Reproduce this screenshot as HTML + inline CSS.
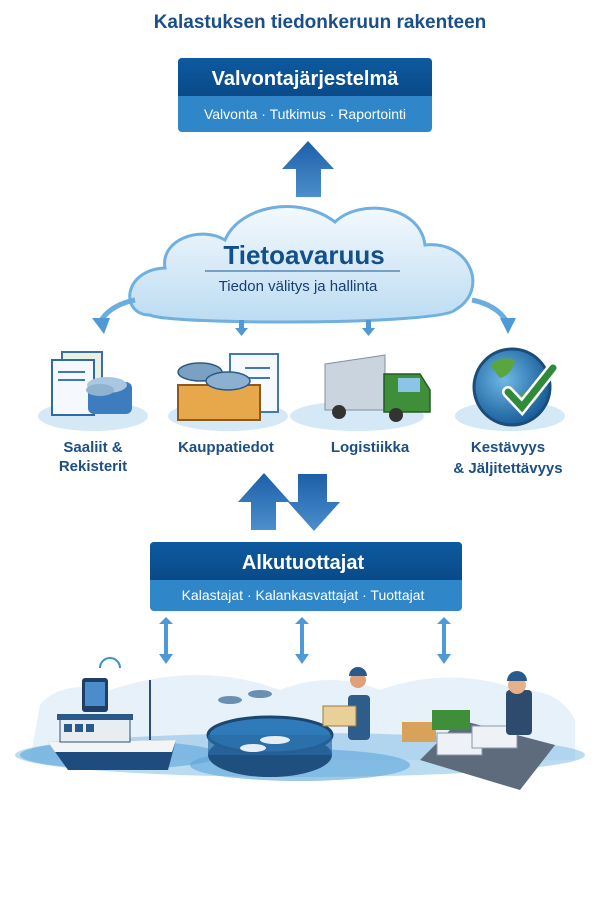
<!DOCTYPE html>
<html><head><meta charset="utf-8"><style>
body{margin:0;background:#fff;width:610px;height:915px;overflow:hidden;font-family:"Liberation Sans",sans-serif}
</style></head><body>
<svg width="610" height="915" viewBox="0 0 610 915" xmlns="http://www.w3.org/2000/svg">
<defs>
<linearGradient id="hd" x1="0" y1="0" x2="0" y2="1"><stop offset="0" stop-color="#0d5aa0"/><stop offset="1" stop-color="#0a4a88"/></linearGradient>
<linearGradient id="ar" x1="0" y1="0" x2="0" y2="1"><stop offset="0" stop-color="#1d5fa8"/><stop offset="1" stop-color="#4b8fcc"/></linearGradient>
<linearGradient id="cl" x1="0" y1="0" x2="0" y2="1"><stop offset="0" stop-color="#f4f9fe"/><stop offset="1" stop-color="#bcdcf2"/></linearGradient>
<radialGradient id="gl" cx="0.4" cy="0.4" r="0.6"><stop offset="0" stop-color="#6fb8e6"/><stop offset="1" stop-color="#1a5f9a"/></radialGradient>
</defs>
<text x="320" y="28" text-anchor="middle" font-size="19" font-weight="bold" fill="#1a4f8a">Kalastuksen tiedonkeruun rakenteen</text>
<!-- top box -->
<rect x="178" y="58" width="254" height="74" rx="4" fill="#2f86c8"/>
<path d="M182 58h246a4 4 0 0 1 4 4v34H178V62a4 4 0 0 1 4-4z" fill="url(#hd)"/>
<text x="305" y="85" text-anchor="middle" font-size="20" font-weight="bold" fill="#fff">Valvontajärjestelmä</text>
<text x="305" y="119" text-anchor="middle" font-size="14" fill="#fff">Valvonta · Tutkimus · Raportointi</text>
<!-- up arrow -->
<path d="M308 141L334 169H321V197H296V169H282Z" fill="url(#ar)"/>
<!-- cloud -->
<path d="M150 315C120 315 122 270 165 268C160 240 200 225 225 240C240 205 300 195 335 222C360 198 420 205 425 245C470 240 490 290 455 310C440 325 170 325 150 315Z" fill="url(#cl)" stroke="#6fb0e0" stroke-width="3"/>
<text x="304" y="264" text-anchor="middle" font-size="26" font-weight="bold" fill="#12508c">Tietoavaruus</text>
<line x1="205" y1="271" x2="400" y2="271" stroke="#1a5590" stroke-width="1"/>
<text x="298" y="291" text-anchor="middle" font-size="15" fill="#163f70">Tiedon välitys ja hallinta</text>
<!-- side curved arrows -->
<path d="M135 300Q110 305 100 322" fill="none" stroke="#6aaee0" stroke-width="5"/>
<path d="M92 318L104 334L110 318Z" fill="#4f9ad6"/>
<path d="M472 300Q497 305 507 322" fill="none" stroke="#6aaee0" stroke-width="5"/>
<path d="M500 318L508 334L516 318Z" fill="#4f9ad6"/>
<path d="M239 320h5v8h4l-6.5 8-6.5-8h4z" fill="#4f9ad6"/>
<path d="M366 320h5v8h4l-6.5 8-6.5-8h4z" fill="#4f9ad6"/>
<!-- icon platforms -->
<ellipse cx="93" cy="416" rx="55" ry="15" fill="#d5e8f6"/>
<ellipse cx="228" cy="416" rx="60" ry="15" fill="#d5e8f6"/>
<ellipse cx="357" cy="416" rx="67" ry="15" fill="#d5e8f6"/>
<ellipse cx="510" cy="416" rx="55" ry="15" fill="#d5e8f6"/>
<!-- icon 1 -->
<rect x="62" y="352" width="40" height="52" fill="#e8f1e4" stroke="#3a6fa8" stroke-width="2"/>
<rect x="52" y="360" width="42" height="55" fill="#f5f9fd" stroke="#2f6aa8" stroke-width="2"/>
<line x1="58" y1="372" x2="85" y2="372" stroke="#3f78b5" stroke-width="2"/><line x1="58" y1="380" x2="85" y2="380" stroke="#3f78b5" stroke-width="2"/>
<rect x="88" y="382" width="44" height="32" rx="6" fill="#3d7cbf"/>
<ellipse cx="107" cy="385" rx="20" ry="8" fill="#a9c7e0"/>
<ellipse cx="100" cy="390" rx="14" ry="6" fill="#8fb2d1"/>
<!-- icon 2 -->
<rect x="230" y="354" width="48" height="58" fill="#f7fafd" stroke="#4079b5" stroke-width="2"/>
<line x1="245" y1="368" x2="270" y2="368" stroke="#3f78b5" stroke-width="2"/><line x1="240" y1="378" x2="270" y2="378" stroke="#3f78b5" stroke-width="2"/>
<path d="M178 385L260 385V420H178Z" fill="#e7a84c" stroke="#8a5a1e" stroke-width="2"/>
<ellipse cx="200" cy="372" rx="22" ry="9" fill="#7aa0c2" stroke="#2d5a86" stroke-width="1.5"/>
<ellipse cx="228" cy="381" rx="22" ry="9" fill="#8cb0cf" stroke="#2d5a86" stroke-width="1.5"/>
<!-- icon 3 truck -->
<path d="M325 364L385 355V410H325Z" fill="#c9d4de" stroke="#7f8fa0"/>
<path d="M384 374H420L430 390V412H384Z" fill="#3f8f3a" stroke="#245c22" stroke-width="1.5"/>
<rect x="398" y="378" width="22" height="14" fill="#8bc4e6"/>
<circle cx="339" cy="412" r="7" fill="#333"/><circle cx="396" cy="415" r="7" fill="#333"/>
<!-- icon 4 globe -->
<circle cx="512" cy="387" r="38" fill="url(#gl)" stroke="#1a4d78" stroke-width="3"/>
<path d="M490 365Q500 355 515 360Q512 375 500 378Z M520 395Q535 385 540 395Q530 410 522 405Z" fill="#5aa53e"/>
<path d="M508 392L522 407L553 368" fill="none" stroke="#fff" stroke-width="12" stroke-linecap="round"/>
<path d="M508 392L522 407L553 368" fill="none" stroke="#2f8a3a" stroke-width="7" stroke-linecap="round"/>
<!-- labels -->
<g font-size="15" font-weight="bold" fill="#1d4f86" text-anchor="middle">
<text x="93" y="452">Saaliit &amp;</text><text x="93" y="471">Rekisterit</text>
<text x="226" y="452">Kauppatiedot</text>
<text x="370" y="452">Logistiikka</text>
<text x="508" y="452">Kestävyys</text><text x="508" y="473">&amp; Jäljitettävyys</text>
</g>
<!-- double arrows -->
<path d="M264 473L290 502H276V530H251V502H238Z" fill="url(#ar)"/>
<path d="M298 474H327V502H340L314 531L288 502H298Z" fill="url(#ar)"/>
<!-- bottom box -->
<rect x="150" y="542" width="312" height="69" rx="4" fill="#2f86c8"/>
<path d="M154 542h304a4 4 0 0 1 4 4v34H150v-34a4 4 0 0 1 4-4z" fill="url(#hd)"/>
<text x="303" y="569" text-anchor="middle" font-size="20" font-weight="bold" fill="#fff">Alkutuottajat</text>
<text x="303" y="600" text-anchor="middle" font-size="14" fill="#fff">Kalastajat · Kalankasvattajat · Tuottajat</text>
<!-- small double arrows -->
<g fill="#4f9ad6">
<path d="M166 617l-7 7h5v30h-5l7 10 7-10h-5v-30h5z"/>
<path d="M302 617l-7 7h5v30h-5l7 10 7-10h-5v-30h5z"/>
<path d="M444 617l-7 7h5v30h-5l7 10 7-10h-5v-30h5z"/>
</g>
<!-- bottom scene -->
<path d="M40 705Q60 680 110 690Q200 660 280 690Q330 670 380 690Q450 665 520 690Q560 690 575 720L575 760H30Z" fill="#e6f1fa"/>
<ellipse cx="300" cy="755" rx="285" ry="22" fill="#8ec3e8" opacity="0.6"/>
<ellipse cx="120" cy="755" rx="100" ry="14" fill="#5ca5db" opacity="0.6"/>
<ellipse cx="300" cy="765" rx="110" ry="16" fill="#5ca5db" opacity="0.6"/>
<!-- boat -->
<path d="M48 742L176 740L168 770H68Z" fill="#1f4c7e"/>
<path d="M48 742L176 740L172 752H55Z" fill="#f2f4f6"/>
<rect x="60" y="718" width="70" height="24" fill="#e8edf2" stroke="#2a4f7a"/>
<rect x="57" y="714" width="76" height="6" fill="#2a5a8c"/>
<rect x="64" y="724" width="8" height="8" fill="#2a5a8c"/><rect x="75" y="724" width="8" height="8" fill="#2a5a8c"/><rect x="86" y="724" width="8" height="8" fill="#2a5a8c"/>
<line x1="150" y1="680" x2="150" y2="740" stroke="#2a4f7a" stroke-width="2"/>
<rect x="82" y="678" width="26" height="34" rx="3" fill="#1f3f66"/><rect x="85" y="682" width="20" height="24" fill="#4a8ccc"/>
<path d="M100 668a10 10 0 0 1 20 0" fill="none" stroke="#3a8fd0" stroke-width="2"/>
<!-- cage -->
<ellipse cx="270" cy="755" rx="62" ry="22" fill="#1f4f7e"/>
<ellipse cx="270" cy="735" rx="62" ry="18" fill="#2f7ab8" stroke="#1b4670" stroke-width="3"/>
<rect x="208" y="735" width="124" height="20" fill="#2a6ba5" opacity="0.7"/>
<ellipse cx="275" cy="740" rx="15" ry="4" fill="#e6eef5"/><ellipse cx="253" cy="748" rx="13" ry="4" fill="#e6eef5"/>
<ellipse cx="230" cy="700" rx="12" ry="4" fill="#6b8fb1"/><ellipse cx="260" cy="694" rx="12" ry="4" fill="#6b8fb1"/>
<!-- worker 1 -->
<rect x="348" y="695" width="22" height="45" rx="4" fill="#2e5d8c"/>
<circle cx="358" cy="680" r="8" fill="#e0a07a"/><path d="M349 676a9 9 0 0 1 18 0Z" fill="#2a5a8c"/>
<rect x="323" y="706" width="33" height="20" fill="#e9cf98" stroke="#9a7b45"/>
<!-- table scene -->
<path d="M420 760L520 790L555 745L460 720Z" fill="#5d6b7c"/>
<rect x="402" y="722" width="34" height="20" fill="#d9a25a"/>
<rect x="432" y="710" width="38" height="20" fill="#3f8f3a"/>
<rect x="437" y="733" width="45" height="22" fill="#eef2f6" stroke="#8a98a8"/>
<rect x="472" y="726" width="45" height="22" fill="#eef2f6" stroke="#8a98a8"/>
<rect x="506" y="690" width="26" height="45" rx="4" fill="#2e4a6c"/>
<circle cx="517" cy="685" r="9" fill="#e6b08a"/><path d="M507 681a10 10 0 0 1 20 0Z" fill="#2a5a8c"/>
</svg>
</body></html>
